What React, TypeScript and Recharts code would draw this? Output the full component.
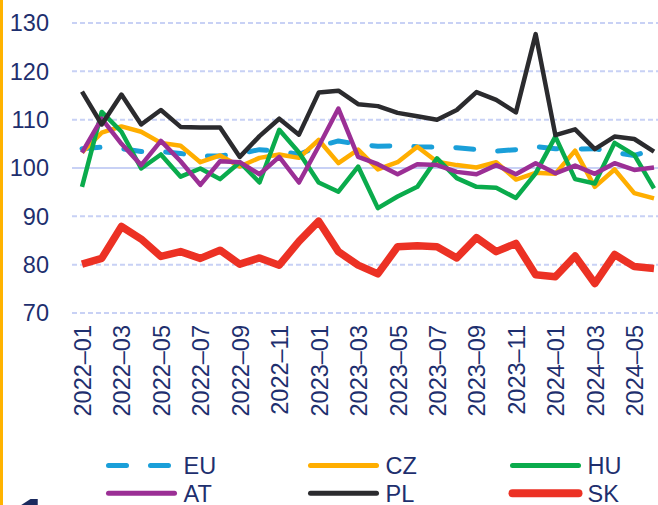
import { LineChart, Line, XAxis, YAxis, CartesianGrid, ReferenceLine } from "recharts";

const NAVY = "#1e2f6e";
const FONT = "'Liberation Sans', Arial, sans-serif";

const months = [
    "2022–01", "2022–02", "2022–03", "2022–04", "2022–05", "2022–06",
    "2022–07", "2022–08", "2022–09", "2022–10", "2022–11", "2022–12",
    "2023–01", "2023–02", "2023–03", "2023–04", "2023–05", "2023–06",
    "2023–07", "2023–08", "2023–09", "2023–10", "2023–11", "2023–12",
    "2024–01", "2024–02", "2024–03", "2024–04", "2024–05", "2024–06",
];

const yTicks = [70, 80, 90, 100, 110, 120, 130];

const eu = [104.0, 104.3, 104.0, 103.4, 103.4, 103.0, 102.5, 102.5, 103.0, 103.8, 103.5, 102.8, 104.5, 105.6, 104.9, 104.5, 104.6, 104.4, 104.3, 104.2, 103.8, 103.5, 103.8, 104.4, 104.0, 103.9, 104.0, 103.2, 102.6, 103.8];
const cz = [103.2, 107.3, 108.6, 107.5, 105.2, 104.6, 101.2, 102.6, 100.3, 102.1, 102.8, 102.1, 105.8, 101.0, 103.8, 99.7, 101.2, 104.4, 101.3, 100.6, 100.1, 101.2, 97.6, 99.0, 98.8, 103.6, 96.1, 99.7, 94.8, 93.7];
const hu = [96.1, 111.6, 107.5, 99.9, 102.8, 98.2, 99.9, 97.7, 101.2, 97.0, 107.9, 103.2, 97.0, 95.1, 100.3, 91.7, 94.1, 96.1, 102.0, 97.9, 96.1, 95.9, 93.8, 98.9, 106.5, 97.7, 96.8, 105.2, 102.7, 95.8];
const at = [103.2, 110.2, 105.0, 100.6, 105.6, 101.4, 96.5, 101.4, 101.2, 98.7, 102.3, 97.0, 104.5, 112.3, 102.3, 100.8, 98.7, 100.8, 100.6, 99.2, 98.7, 100.6, 98.7, 101.0, 98.9, 100.5, 98.8, 101.0, 99.6, 100.1];
const pl = [115.8, 109.0, 115.2, 109.0, 112.0, 108.5, 108.4, 108.4, 102.3, 106.6, 110.2, 106.9, 115.6, 116.0, 113.2, 112.8, 111.4, 110.7, 110.0, 112.0, 115.7, 114.1, 111.5, 127.7, 106.8, 108.0, 103.9, 106.5, 106.0, 103.4];
const sk = [80.1, 81.3, 87.9, 85.3, 81.7, 82.7, 81.3, 83.0, 80.1, 81.4, 79.9, 84.8, 89.0, 82.7, 79.9, 78.1, 83.7, 83.9, 83.7, 81.4, 85.6, 82.7, 84.4, 77.9, 77.5, 81.8, 76.1, 82.1, 79.6, 79.2];

const series = [
    { key: "EU", values: eu, color: "#1a9fd9", width: 5, dash: "18 24" },
    { key: "CZ", values: cz, color: "#ffae00", width: 4.5 },
    { key: "HU", values: hu, color: "#0aab4c", width: 4.5 },
    { key: "AT", values: at, color: "#9b2f95", width: 4.5 },
    { key: "PL", values: pl, color: "#2b2b2e", width: 4.5 },
    { key: "SK", values: sk, color: "#ec3124", width: 7.5 },
];

const data = months.map((m, i) => {
    const row: Record<string, string | number> = { month: m };
    series.forEach((s) => (row[s.key] = s.values[i]));
    return row;
});

function MonthTick({ x, y, payload }: any) {
    return (
        <text
            x={x}
            y={y}
            dy={9}
            transform={`rotate(-90, ${x}, ${y})`}
            textAnchor="end"
            fill={NAVY}
            fontSize={23.5}
            fontFamily={FONT}
        >
            {payload.value}
        </text>
    );
}

// two rows of three, drawn below the axis labels
function ChartLegend() {
    return (
        <svg width={658} height={65} style={{ position: "absolute", left: 0, top: 440 }}>
            {series.map((s, i) => {
                const col = i % 3;
                const row = Math.floor(i / 3);
                const x = 108.5 + col * 202;
                const y = 25.6 + row * 27.7;
                return (
                    <g key={s.key}>
                        <line
                            x1={x}
                            x2={x + 66}
                            y1={y}
                            y2={y}
                            stroke={s.color}
                            strokeWidth={s.key === "SK" ? 8 : 5}
                            strokeLinecap="round"
                            strokeDasharray={s.dash}
                        />
                        <text x={x + 75} y={y + 8.5} fill={NAVY} fontSize={23.5} fontFamily={FONT}>
                            {s.key}
                        </text>
                    </g>
                );
            })}
        </svg>
    );
}

export default function App() {
    return (
        <div
            style={{
                position: "absolute",
                left: 0,
                top: 0,
                width: 658,
                height: 505,
                overflow: "hidden",
                background: "#fff",
                fontFamily: FONT,
            }}
        >
            <div style={{ position: "absolute", left: 0, top: 0, width: 3, height: 505, background: "#ffb300" }} />
            <LineChart width={658} height={505} data={data} margin={{ top: 23, right: 0, left: 0, bottom: 0 }}>
                <CartesianGrid vertical={false} stroke="#c8d1f5" strokeWidth={2} strokeDasharray="5 3" />
                <ReferenceLine y={100} stroke="#c8d1f5" strokeWidth={2} />
                <XAxis
                    dataKey="month"
                    interval={1}
                    tick={<MonthTick />}
                    tickLine={false}
                    axisLine={false}
                    tickMargin={6}
                    height={192}
                    padding={{ left: 10, right: 4 }}
                />
                <YAxis
                    domain={[70, 130]}
                    ticks={yTicks}
                    width={72}
                    tickMargin={17}
                    axisLine={false}
                    tickLine={false}
                    tick={{ fill: NAVY, fontSize: 23.5, fontFamily: FONT }}
                />
                {series.map((s) => (
                    <Line
                        key={s.key}
                        dataKey={s.key}
                        stroke={s.color}
                        strokeWidth={s.width}
                        strokeDasharray={s.dash}
                        strokeLinecap={s.dash ? "round" : "butt"}
                        strokeLinejoin="round"
                        dot={false}
                        activeDot={false}
                        isAnimationActive={false}
                    />
                ))}
            </LineChart>
            <ChartLegend />
            <div
                style={{
                    position: "absolute",
                    left: 17,
                    top: 490,
                    fontSize: 56,
                    fontWeight: 700,
                    lineHeight: 1,
                    color: "#1a2a5e",
                }}
            >
                1
            </div>
        </div>
    );
}
